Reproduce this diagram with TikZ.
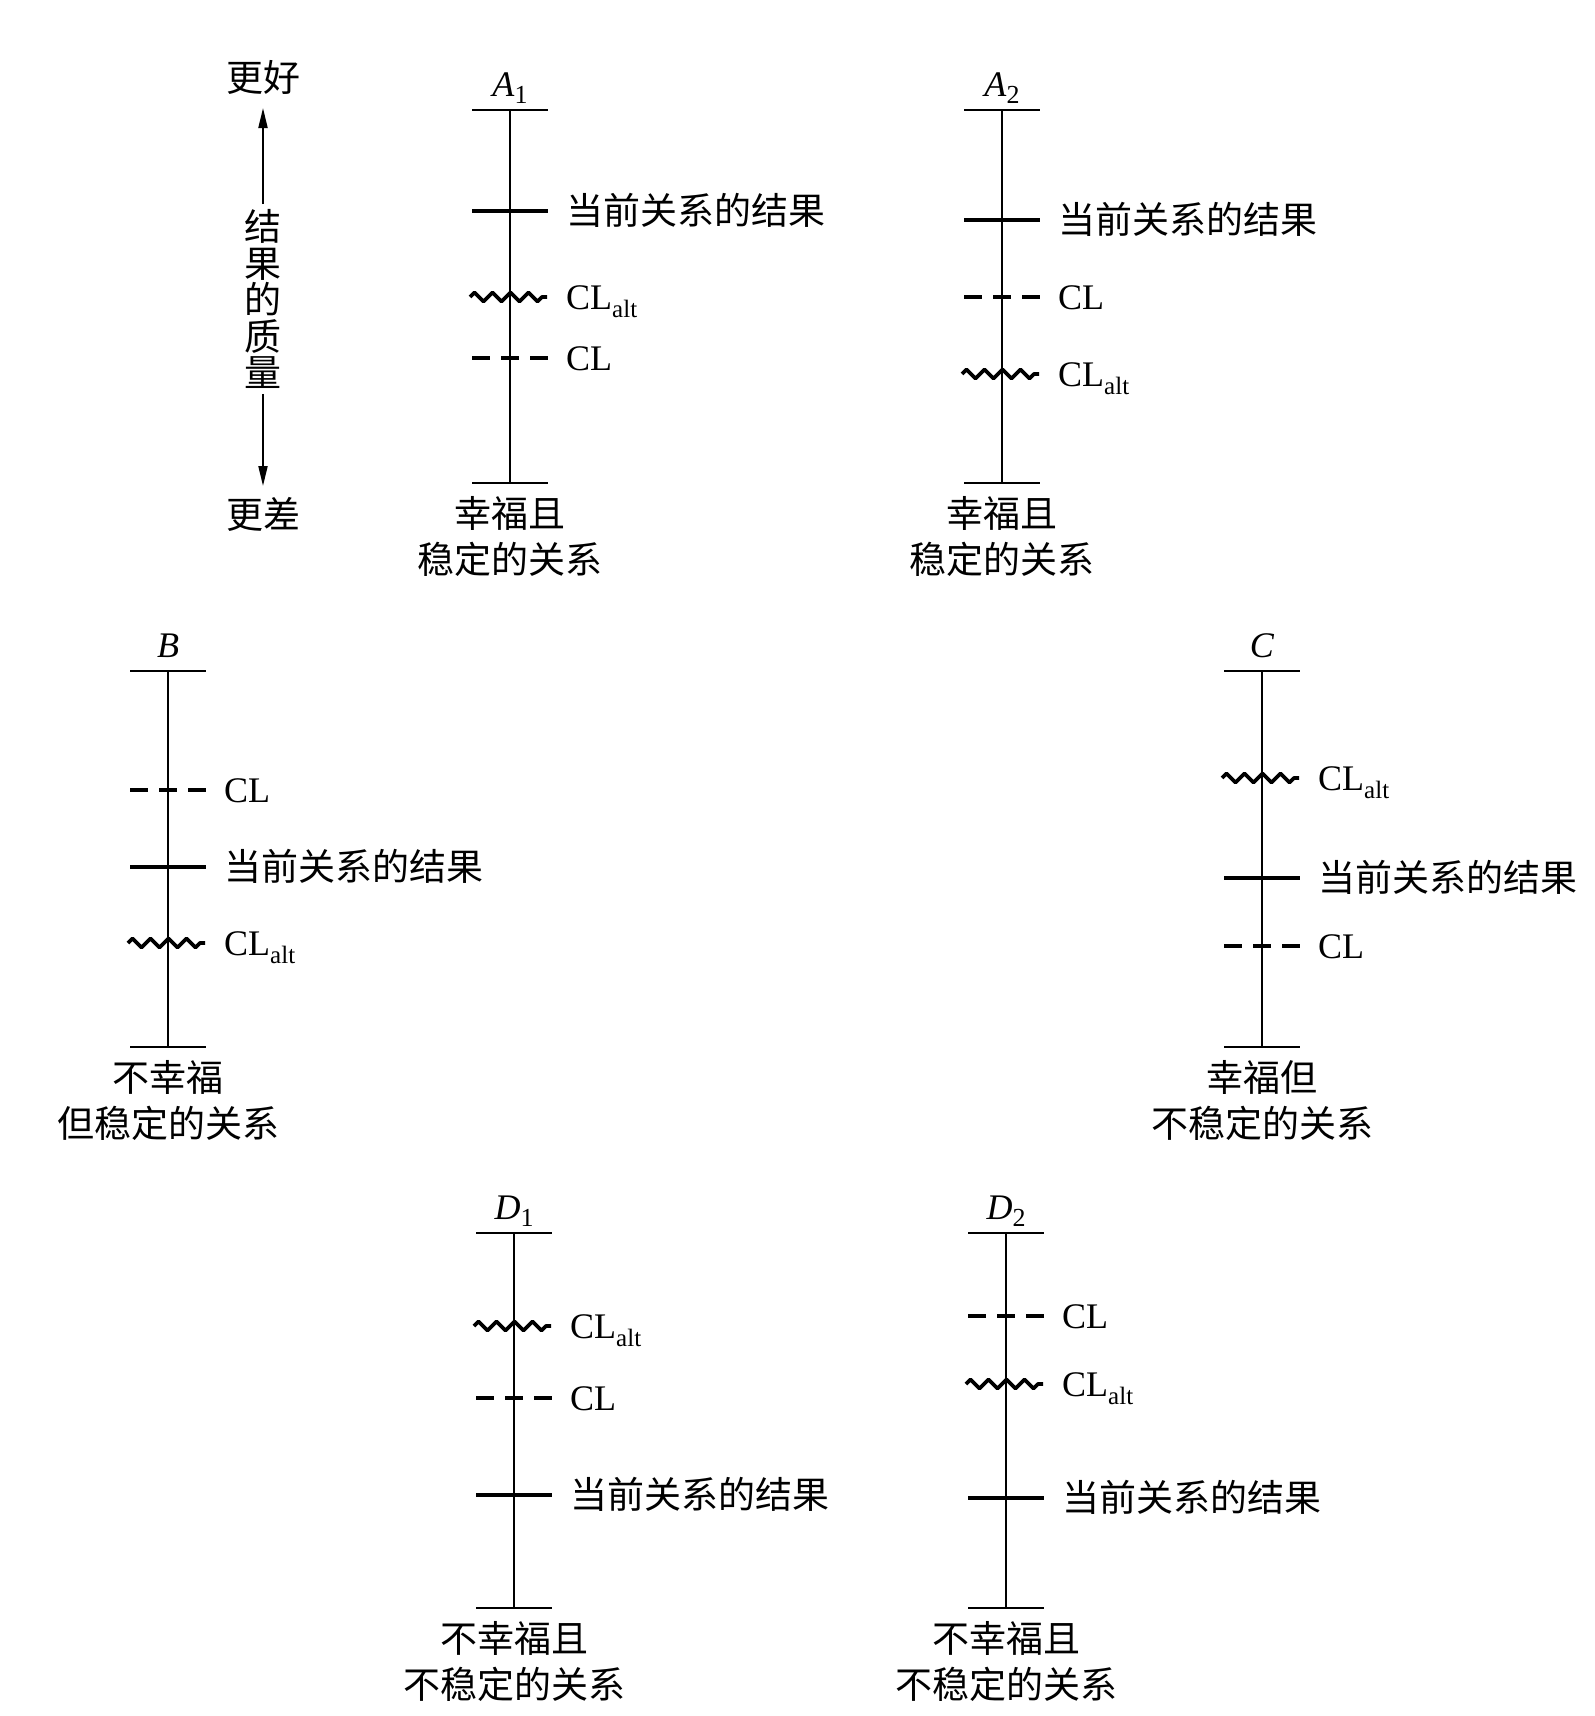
\documentclass[tikz,border=0pt]{standalone}
\usepackage{fontspec}
\setmainfont{Liberation Serif}
\newfontfamily\cjk{Noto Sans CJK SC}
\usetikzlibrary{arrows.meta,decorations.pathmorphing}
\newcommand{\altsub}{\raisebox{-8pt}{\fontsize{25}{25}\selectfont alt}}
\newcommand{\idxsub}[1]{\raisebox{-7pt}{\fontsize{26}{26}\selectfont #1}}
% bar: name, x, top y, bottom y, label
\newcommand{\scalebar}[5]{%
  \coordinate (#1t) at (#2,#3);
  \coordinate (#1b) at (#2,#4);
  \draw[axisline] (#1t) -- (#1b);
  \draw[endtick] ([xshift=-38pt]#1t) -- ([xshift=38pt]#1t);
  \draw[endtick] ([xshift=-38pt]#1b) -- ([xshift=38pt]#1b);
  \node[lat, anchor=base] (#1lab) at ([yshift=14pt]#1t) {#5};
}
\newcommand{\resmark}[3]{%
  \coordinate (#1) at (#2,#3);
  \draw[resline] ([xshift=-38pt]#1) -- ([xshift=38pt]#1);
  \node[zh, anchor=base west] (#1txt) at ([xshift=56pt,yshift=-13pt]#1) {当前关系的结果};
}
\newcommand{\clmark}[3]{%
  \coordinate (#1) at (#2,#3);
  \draw[clline] ([xshift=-38pt]#1) -- ([xshift=38pt]#1);
  \node[lat, anchor=base west] (#1txt) at ([xshift=56pt,yshift=-12pt]#1) {CL};
}
\newcommand{\altmark}[3]{%
  \coordinate (#1) at (#2,#3);
  \draw[altline] ([xshift=-40pt]#1) -- ([xshift=37pt]#1);
  \node[lat, anchor=base west] (#1txt) at ([xshift=56pt,yshift=-12pt]#1) {CL\altsub};
}
\begin{document}
\begin{tikzpicture}[x=1pt,y=-1pt,
  zh/.style={font=\cjk\fontsize{37}{46}\selectfont, inner sep=0pt},
  lat/.style={font=\fontsize{36}{44}\selectfont, inner sep=0pt},
  axisline/.style={line width=2pt},
  endtick/.style={line width=2pt},
  resline/.style={line width=4.6pt},
  clline/.style={line width=4pt, dash pattern=on 18pt off 11pt},
  altline/.style={line width=3.8pt, line join=round, decorate,
    decoration={zigzag, segment length=18pt, amplitude=4.5pt}},
  qarrow/.style={line width=2pt, -{Triangle[length=20pt,width=9pt]}}]
\useasboundingbox (0,0) rectangle (1595,1716);

% quality axis
\node[zh] (better) at (263,77) {更好};
\node[zh] (worse) at (263,514) {更差};
\node[zh, align=center, font=\cjk\fontsize{37}{36.5}\selectfont] (qual) at (263,299) {结\\果\\的\\质\\量};
\coordinate (upTip) at (263,108);
\coordinate (downTip) at (263,486);
\draw[qarrow] ([yshift=5pt]qual.north) -- (upTip);
\draw[qarrow] ([yshift=-5pt]qual.south) -- (downTip);

% A1
\scalebar{A1}{510}{110}{483}{\textit{A}\idxsub{1}}
\resmark{A1r}{510}{211}
\altmark{A1a}{510}{297}
\clmark{A1c}{510}{358}
\node[zh, align=center] (A1cap) at (510,537) {幸福且\\稳定的关系};

% A2
\scalebar{A2}{1002}{110}{483}{\textit{A}\idxsub{2}}
\resmark{A2r}{1002}{220}
\clmark{A2c}{1002}{297}
\altmark{A2a}{1002}{374}
\node[zh, align=center] (A2cap) at (1002,537) {幸福且\\稳定的关系};

% B
\scalebar{B}{168}{671}{1047}{\textit{B}}
\clmark{Bc}{168}{790}
\resmark{Br}{168}{867}
\altmark{Ba}{168}{943}
\node[zh, align=center] (Bcap) at (168,1100) {不幸福\\但稳定的关系};

% C
\scalebar{C}{1262}{671}{1047}{\textit{C}}
\altmark{Ca}{1262}{778}
\resmark{Cr}{1262}{878}
\clmark{Cc}{1262}{946}
\node[zh, align=center] (Ccap) at (1262,1100) {幸福但\\不稳定的关系};

% D1
\scalebar{D1}{514}{1233}{1608}{\textit{D}\idxsub{1}}
\altmark{D1a}{514}{1326}
\clmark{D1c}{514}{1398}
\resmark{D1r}{514}{1495}
\node[zh, align=center] (D1cap) at (514,1661) {不幸福且\\不稳定的关系};

% D2
\scalebar{D2}{1006}{1233}{1608}{\textit{D}\idxsub{2}}
\clmark{D2c}{1006}{1316}
\altmark{D2a}{1006}{1384}
\resmark{D2r}{1006}{1498}
\node[zh, align=center] (D2cap) at (1006,1661) {不幸福且\\不稳定的关系};
\end{tikzpicture}
\end{document}
